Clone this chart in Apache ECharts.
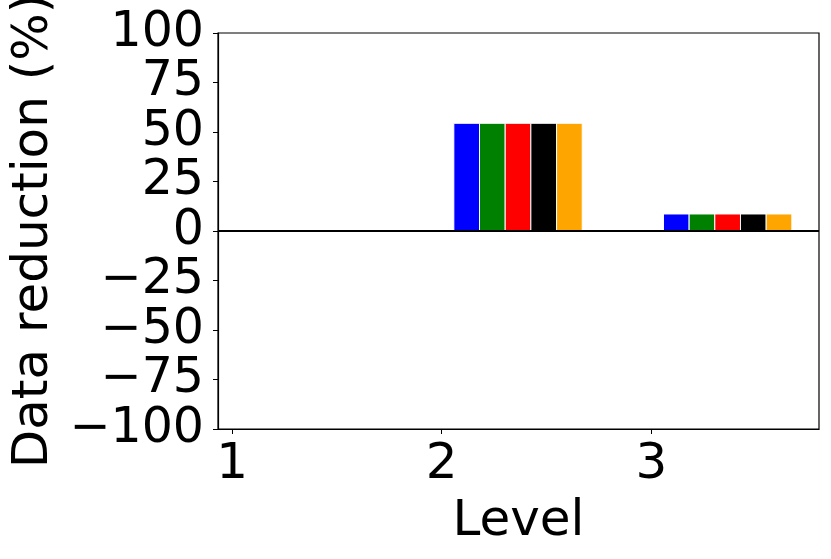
<!DOCTYPE html>
<html>
<head>
<meta charset="utf-8">
<script src="https://cdn.jsdelivr.net/npm/echarts@6/dist/echarts.min.js"></script>
<style>
  html, body { margin: 0; padding: 0; background: #fff; }
  #chart { width: 831px; height: 559px; }
</style>
</head>
<body>
<div id="chart"></div>
<script>
// levels on the x axis
const levels = [1, 2, 3];
const xTicks = [1, 2, 3];
// data reduction (%) per level, one array per bar colour
const blueVals = [0, 54.4, 8.6];
const greenVals = [0, 54.4, 8.6];
const redVals = [0, 54.4, 8.6];
const blackVals = [0, 54.4, 8.6];
const orangeVals = [0, 54.4, 8.6];

const groups = [
  { vals: blueVals, color: "#0000ff" },
  { vals: greenVals, color: "#008000" },
  { vals: redVals, color: "#ff0000" },
  { vals: blackVals, color: "#000000" },
  { vals: orangeVals, color: "#ffa500" },
];
const barW = 0.1225;
const barStart = 0.058;
const font = "DejaVu Sans";
const fs = 50;

const series = groups.map((g, i) => ({
  type: "custom",
  data: levels.map((lv, j) => [lv + barStart + i * barW, g.vals[j]]),
  renderItem: function (params, api) {
    const x = api.value(0);
    const y = api.value(1);
    if (y === 0) return null;
    const p0 = api.coord([x, y]);
    const p1 = api.coord([x + barW, 0]);
    return {
      type: "rect",
      shape: {
        x: p0[0],
        y: Math.min(p0[1], p1[1]),
        width: p1[0] - p0[0],
        height: Math.abs(p1[1] - p0[1]),
      },
      style: { fill: g.color, stroke: "#ffffff", lineWidth: 1 },
    };
  },
  z: 2,
}));

// horizontal zero line
series.push({
  type: "line",
  data: [],
  z: 10,
  markLine: {
    silent: true,
    symbol: "none",
    label: { show: false },
    lineStyle: { color: "#000", width: 2, type: "solid" },
    data: [{ yAxis: 0 }],
  },
});

const option = {
  backgroundColor: "#fff",
  animation: false,
  grid: {
    left: 218,
    right: 12,
    top: 33,
    bottom: 130,
    containLabel: false,
    outerBoundsMode: "none",
    show: true,
    borderColor: "#000",
    borderWidth: 1.2,
    backgroundColor: "transparent",
  },
  xAxis: {
    type: "value",
    min: 0.933,
    max: 3.8,
    name: "Level",
    nameLocation: "middle",
    nameGap: 68,
    nameTextStyle: { fontFamily: font, fontSize: fs, color: "#000" },
    axisLine: { show: true, onZero: false, lineStyle: { color: "#000", width: 1.2 } },
    axisTick: { show: true, inside: false, length: 5, customValues: xTicks, lineStyle: { color: "#000" } },
    axisLabel: {
      customValues: xTicks,
      fontFamily: font,
      fontSize: fs,
      color: "#000",
      margin: 11,
    },
    splitLine: { show: false },
  },
  yAxis: {
    type: "value",
    min: -100,
    max: 100,
    interval: 25,
    name: "Data reduction (%)",
    nameLocation: "middle",
    nameRotate: 90,
    nameGap: 158,
    nameTextStyle: { fontFamily: font, fontSize: fs, color: "#000" },
    axisLine: { show: true, onZero: false, lineStyle: { color: "#000", width: 1.2 } },
    axisTick: { show: true, inside: false, length: 5, lineStyle: { color: "#000" } },
    axisLabel: {
      fontFamily: font,
      fontSize: 49,
      color: "#000",
      margin: 14,
      formatter: (v) => (v < 0 ? "\u2212" + Math.abs(v) : String(v)),
    },
    splitLine: { show: false },
  },
  series: series,
};

const myChart = echarts.init(document.getElementById("chart"));
myChart.setOption(option);
</script>
</body>
</html>
